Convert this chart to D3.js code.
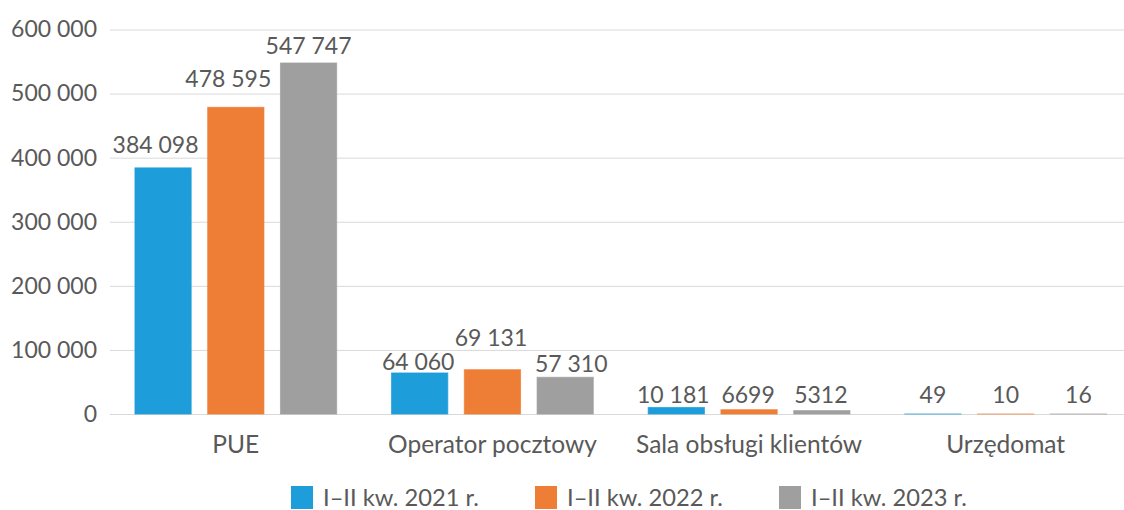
<!DOCTYPE html>
<html>
<head>
<meta charset="utf-8">
<script src="https://cdn.jsdelivr.net/npm/d3@7"></script>
<style>
  body { margin: 0; background: #fff; }
  svg { display: block; font-family: Lato, 'Open Sans', sans-serif; }
</style>
</head>
<body>
<div id="chart"></div>
<script>
// data
const categories = ['PUE', 'Operator pocztowy', 'Sala obsługi klientów', 'Urzędomat'];
const seriesNames = ['I–II kw. 2021 r.', 'I–II kw. 2022 r.', 'I–II kw. 2023 r.'];
const values2021 = [384098, 64060, 10181, 49];
const values2022 = [478595, 69131, 6699, 10];
const values2023 = [547747, 57310, 5312, 16];
const yTicks = [0, 100000, 200000, 300000, 400000, 500000, 600000];

// label nudges: the labels in the original were moved by hand
const labelGap = [
  [15, 20, 8.5],
  [3, 24, 5],
  [null, null, null],
  [null, null, null]
];
const labelDx = [
  [-7.5, -7.5, 0],
  [-1.5, -1.5, 6],
  [-3, -1, -1],
  [0, 0, 0]
];

const colors = ['#1d9dd9', '#ee7d35', '#9f9f9f'];
const textColor = '#595959';

const width = 1124;
const height = 510;

const seriesValues = [values2021, values2022, values2023];

const svg = d3.select('#chart').append('svg')
  .attr('width', width)
  .attr('height', height);

// scales
const xScale = d3.scaleBand()
  .domain(categories)
  .range([107.5, 1134])
  .paddingInner(0)
  .paddingOuter(0);

const xInner = d3.scaleBand()
  .domain(d3.range(seriesNames.length))
  .range([0, xScale.bandwidth()])
  .paddingInner(0.213)
  .paddingOuter(0.37);

const yScale = d3.scaleLinear()
  .domain([0, 600000])
  .range([414, 29.5]);

const fmt = n => n >= 10000 ? d3.format(',')(n).replace(/,/g, ' ') : String(n);

// y axis with gridlines
const yAxis = d3.axisLeft(yScale)
  .tickValues(yTicks)
  .tickFormat(fmt)
  .tickSize(-(width - 110))
  .tickPadding(13);

const yG = svg.append('g')
  .attr('transform', 'translate(110, 0)')
  .call(yAxis);

yG.select('.domain').remove();
yG.selectAll('.tick line')
  .attr('stroke', '#d9d9d9')
  .attr('stroke-width', 1);
yG.selectAll('.tick text')
  .attr('fill', textColor)
  .style('font-size', '23px')
  .style('font-family', 'Lato, sans-serif');

// bars (thin outline so the tiny Urzędomat bars still show as a line)
seriesValues.forEach((vals, s) => {
  svg.append('g')
    .selectAll('rect')
    .data(vals)
    .join('rect')
    .attr('x', (d, i) => xScale(categories[i]) + xInner(s) + 0.5)
    .attr('width', xInner.bandwidth() - 1)
    .attr('y', d => yScale(d))
    .attr('height', d => yScale(0) - yScale(d))
    .attr('fill', colors[s])
    .attr('stroke', colors[s])
    .attr('stroke-opacity', 0.7)
    .attr('stroke-width', 1);
});

// value labels
seriesValues.forEach((vals, s) => {
  svg.append('g')
    .selectAll('text')
    .data(vals)
    .join('text')
    .text(d => fmt(d))
    .attr('x', (d, i) => xScale(categories[i]) + xInner(s) + xInner.bandwidth() / 2 + labelDx[i][s])
    .attr('y', (d, i) => {
      const g = labelGap[i][s];
      return g === null ? yScale(0) - 11 : yScale(d) - g;
    })
    .attr('text-anchor', 'middle')
    .attr('fill', textColor)
    .style('font-size', '23px');
});

// category labels
svg.append('g')
  .selectAll('text')
  .data(categories)
  .join('text')
  .text(d => d)
  .attr('x', d => xScale(d) + xScale.bandwidth() / 2)
  .attr('y', 453)
  .attr('text-anchor', 'middle')
  .attr('fill', textColor)
  .style('font-size', '24.5px');

// legend
const legend = svg.append('g')
  .selectAll('g')
  .data(seriesNames)
  .join('g')
  .attr('transform', (d, i) => `translate(${291 + i * 244}, 486)`);

legend.append('rect')
  .attr('width', 22)
  .attr('height', 23)
  .attr('fill', (d, i) => colors[i]);

legend.append('text')
  .text(d => d)
  .attr('x', 32)
  .attr('y', 20)
  .attr('fill', textColor)
  .style('font-size', '23.7px');
</script>
</body>
</html>
